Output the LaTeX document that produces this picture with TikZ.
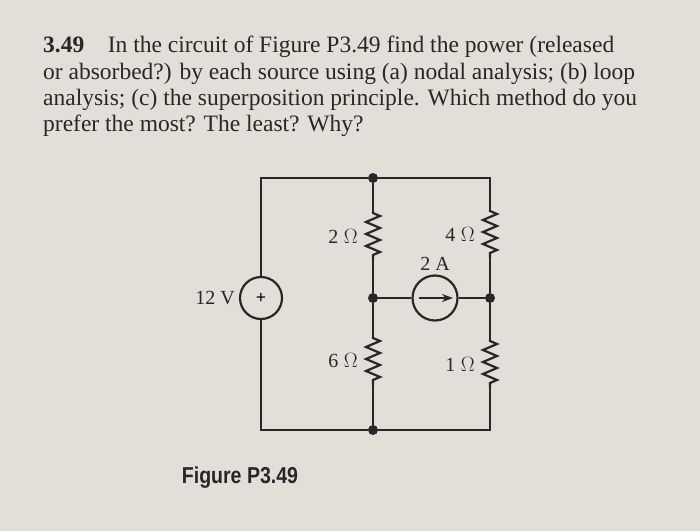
\documentclass[tikz,border=0pt]{standalone}
\usepackage{fontspec}
\setmainfont{Liberation Serif}
\newfontfamily\figfont{Liberation Sans}
\usetikzlibrary{calc,positioning,decorations.pathmorphing,arrows.meta}
\definecolor{paper}{RGB}{226,223,217}
\definecolor{ink}{RGB}{40,38,40}
\tikzset{
  wire/.style={draw=ink,line width=2.2pt},
  res/.style={draw=ink,line width=2.2pt,decorate,decoration={zigzag,segment length=12pt,amplitude=7pt,pre length=1pt,post length=1pt}},
  junc/.style={circle,fill=ink,inner sep=0pt,minimum size=10pt},
  src/.style={circle,draw=ink,line width=2.2pt,minimum size=42pt,inner sep=0pt},
  lbl/.style={text=ink,font=\fontsize{20}{20}\selectfont,inner sep=2pt}
}
\begin{document}
\begin{tikzpicture}[x=1pt,y=-1pt]
  \fill[paper] (0,0) rectangle (700,531);
  \useasboundingbox (0,0) rectangle (700,531);
  % problem text
  \node[anchor=north west,text=ink,inner sep=0pt,align=left,font=\fontsize{23.5}{26.3}\selectfont] (prob) at (43,36)
    {\textbf{3.49}\quad In the circuit of Figure P3.49 find the power (released\\
     or absorbed?) by each source using (a) nodal analysis; (b) loop\\
     analysis; (c) the superposition principle. Which method do you\\
     prefer the most? The least? Why?};
  % corners and nodes
  \coordinate (tl) at (261,178);
  \node[junc] (tm) at (373,178) {};
  \coordinate (tr) at (490,178);
  \coordinate (bl) at (261,430);
  \node[junc] (bm) at (373,430) {};
  \coordinate (br) at (490,430);
  \node[junc] (mm) at (373,298) {};
  \node[junc] (mr) at (490,298) {};
  % sources
  \node[src] (vs) at (261,298) {\fontsize{18}{18}\selectfont\textbf{+}};
  \node[src,minimum size=45pt] (is) at (435,298) {};
  \draw[ink,line width=2.2pt,-{Stealth[length=11pt,width=8pt]}] ($(is)+(-16,0)$) -- ($(is)+(18,0)$);
  % resistor end points
  \coordinate (r2a) at (373,212); \coordinate (r2b) at (373,260);
  \coordinate (r4a) at (490,210); \coordinate (r4b) at (490,258);
  \coordinate (r6a) at (373,337); \coordinate (r6b) at (373,385);
  \coordinate (r1a) at (490,340); \coordinate (r1b) at (490,388);
  % wires
  \draw[wire] (vs.north) -- (tl) -- (tm) -- (tr) -- (r4a);
  \draw[wire] (vs.south) -- (bl) -- (bm) -- (br) -- (r1b);
  \draw[wire] (tm) -- (r2a) (r2b) -- (mm) -- (r6a) (r6b) -- (bm);
  \draw[wire] (r4b) -- (mr) -- (r1a);
  \draw[wire] (mm) -- (is.west) (is.east) -- (mr);
  % resistors
  \draw[res] (r2a) -- (r2b);
  \draw[res] (r4a) -- (r4b);
  \draw[res] (r6a) -- (r6b);
  \draw[res] (r1a) -- (r1b);
  % labels
  \node[lbl,left=13pt of $(r2a)!0.5!(r2b)$] (l2) {2\;$\Omega$};
  \node[lbl,left=13pt of $(r4a)!0.5!(r4b)$] (l4) {4\;$\Omega$};
  \node[lbl,left=13pt of $(r6a)!0.5!(r6b)$] (l6) {6\;$\Omega$};
  \node[lbl,left=13pt of $(r1a)!0.5!(r1b)$] (l1) {1\;$\Omega$};
  \node[lbl,above=2pt of is] (lA) {2 A};
  \node[lbl,left=2pt of vs] (lV) {12 V};
  \node[text=ink,xscale=0.85,font=\figfont\bfseries\fontsize{23}{23}\selectfont] (cap) at (240,478) {Figure P3.49};
\end{tikzpicture}
\end{document}
